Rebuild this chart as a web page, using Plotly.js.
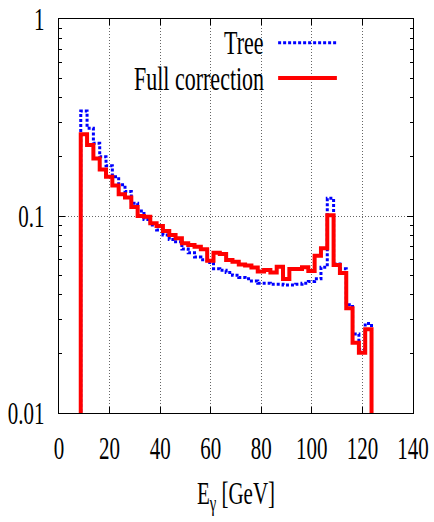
<!DOCTYPE html>
<html>
<head>
<meta charset="utf-8">
<script src="https://cdn.plot.ly/plotly-3.0.1.min.js"></script>
<style>
  html, body { margin: 0; padding: 0; background: #fff; }
  #chart { width: 434px; height: 522px; }
</style>
</head>
<body>
<div id="chart"></div>
<script>
// Photon energy spectrum, 2.5 GeV bins starting at 8.6 GeV
const binStart = 8.6;
const binWidth = 2.5;

// Normalised distribution per bin: tree level
const treeValues = [
  0.341, 0.279, 0.234, 0.200, 0.180, 0.158, 0.144, 0.133, 0.116, 0.106,
  0.096, 0.090, 0.085, 0.080, 0.076, 0.074, 0.068, 0.065, 0.062, 0.060,
  0.058, 0.054, 0.053, 0.0516, 0.050, 0.0487, 0.048, 0.0468, 0.0456, 0.0456,
  0.0451, 0.0451, 0.0447, 0.0447, 0.045, 0.0456, 0.0465, 0.048, 0.055, 0.123,
  0.057, 0.054, 0.0354, 0.0252, 0.021, 0.0285
];

// Normalised distribution per bin: with the full correction
const fullValues = [
  0.260, 0.229, 0.196, 0.172, 0.158, 0.143, 0.129, 0.124, 0.111, 0.100,
  0.099, 0.092, 0.089, 0.084, 0.080, 0.077, 0.0727, 0.0713, 0.0699, 0.0677,
  0.0593, 0.0651, 0.0641, 0.0598, 0.0586, 0.0568, 0.0560, 0.0547, 0.0522, 0.0532,
  0.0516, 0.0553, 0.0479, 0.0538, 0.0538, 0.0549, 0.0526, 0.0629, 0.0686, 0.101,
  0.0564, 0.0514, 0.034, 0.0227, 0.0202, 0.0266
];

const seriesNames = ['Tree', 'Full correction'];
const xTickVals = [0, 20, 40, 60, 80, 100, 120, 140];
const yTickVals = [0.01, 0.1, 1];
const yTickText = ['0.01', '0.1', '1'];
const yMinorVals = [0.02, 0.03, 0.04, 0.05, 0.06, 0.07, 0.08, 0.09,
                    0.2, 0.3, 0.4, 0.5, 0.6, 0.7, 0.8, 0.9];

// Build a closed step outline: drops to the floor at both ends of the histogram
function stepOutline(values) {
  const n = values.length;
  const floor = 1e-4;
  const x = [binStart];
  const y = [floor];
  for (let i = 0; i < n; i++) {
    x.push(binStart + i * binWidth);
    y.push(values[i]);
  }
  const end = binStart + n * binWidth;
  x.push(end, end);
  y.push(values[n - 1], floor);
  return { x, y };
}

const tree = stepOutline(treeValues);
const full = stepOutline(fullValues);

const serif = 'Liberation Serif, Times New Roman, serif';

const traces = [
  {
    x: tree.x, y: tree.y, type: 'scatter', mode: 'lines', name: seriesNames[0],
    line: { shape: 'hv', color: '#0000ff', width: 3, dash: '3px,2px' },
    hoverinfo: 'skip'
  },
  {
    x: full.x, y: full.y, type: 'scatter', mode: 'lines', name: seriesNames[1],
    line: { shape: 'hv', color: '#ff0000', width: 4 },
    hoverinfo: 'skip'
  }
];

const axisCommon = {
  showline: true, linecolor: '#000', linewidth: 1.2, mirror: 'ticks',
  ticks: 'inside', ticklen: 6, tickwidth: 1, tickcolor: '#000',
  zeroline: false,
  showgrid: true, gridcolor: '#666', gridwidth: 1, griddash: '1px,2px',
  tickfont: { family: serif, size: 21, color: '#000' }
};

const legendRight = 0.585;
const legendSample = [0.619, 0.785];
const legendRows = [0.940, 0.850];

const layout = {
  width: 434, height: 522,
  margin: { l: 59, r: 21, t: 19, b: 109 },
  paper_bgcolor: '#fff', plot_bgcolor: '#fff',
  showlegend: false,
  xaxis: Object.assign({}, axisCommon, {
    range: [0, 140], tickvals: xTickVals, automargin: false,
    ticklabelstandoff: 16,
    title: { text: 'E<sub>γ</sub> [GeV]', font: { family: serif, size: 21, color: '#000' }, standoff: 26 }
  }),
  yaxis: Object.assign({}, axisCommon, {
    type: 'log', range: [-2, 0], tickvals: yTickVals, ticktext: yTickText,
    automargin: false, ticklabelstandoff: 9,
    minor: { tickmode: 'array', tickvals: yMinorVals, ticks: 'inside', ticklen: 3,
             tickwidth: 1, tickcolor: '#000', showgrid: false }
  }),
  annotations: seriesNames.map((name, i) => ({
    xref: 'paper', yref: 'paper', x: legendRight, y: legendRows[i],
    xanchor: 'right', yanchor: 'middle', text: name, showarrow: false,
    font: { family: serif, size: 22, color: '#000' }
  })),
  shapes: [
    { type: 'line', xref: 'paper', yref: 'paper', x0: legendSample[0], x1: legendSample[1],
      y0: legendRows[0], y1: legendRows[0], line: { color: '#0000ff', width: 3, dash: '3px,2px' } },
    { type: 'line', xref: 'paper', yref: 'paper', x0: legendSample[0], x1: legendSample[1],
      y0: legendRows[1], y1: legendRows[1], line: { color: '#ff0000', width: 4 } }
  ]
};

// The serif lettering is tall and narrow: stretch each label vertically about its centre
function stretchLabels(gd, s) {
  gd.querySelectorAll('.xtick text, .ytick text, .annotation-text, .g-xtitle text').forEach(t => {
    const b = t.getBBox();
    const cx = b.x + b.width / 2, cy = b.y + b.height / 2;
    const prev = t.getAttribute('transform') || '';
    t.setAttribute('transform',
      prev + ' translate(' + cx + ',' + cy + ') scale(1,' + s + ') translate(' + (-cx) + ',' + (-cy) + ')');
  });
}

Plotly.newPlot('chart', traces, layout, { displayModeBar: false, staticPlot: true })
  .then(gd => stretchLabels(gd, 1.55));
</script>
</body>
</html>
